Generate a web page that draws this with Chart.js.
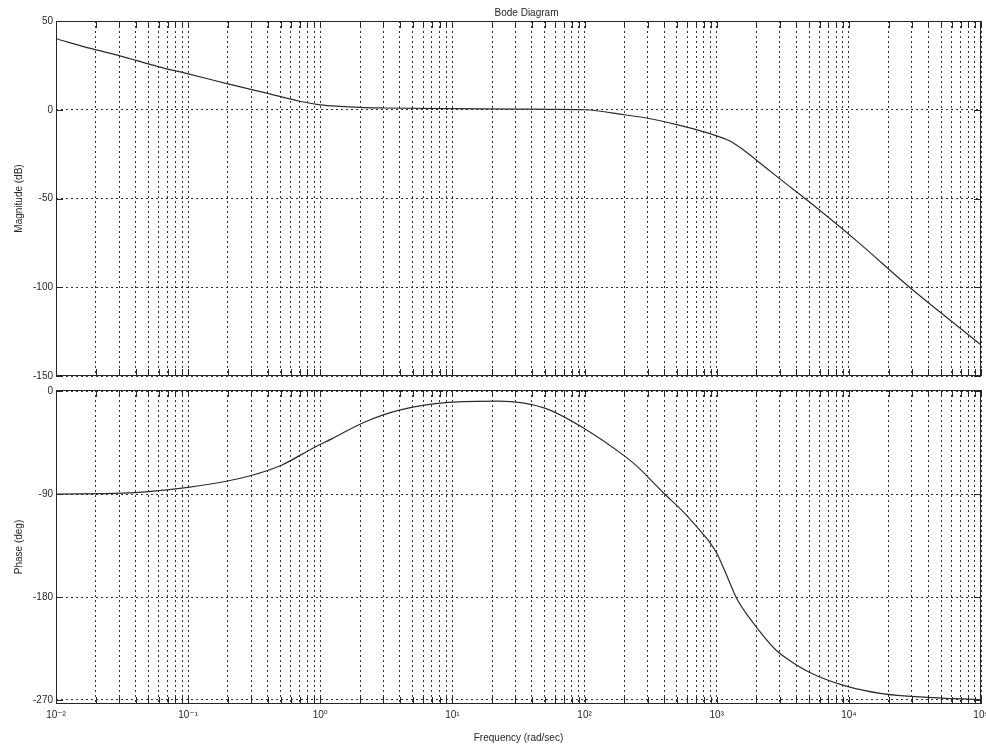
<!DOCTYPE html>
<html>
<head>
<meta charset="utf-8">
<script src="https://cdn.jsdelivr.net/npm/chart.js@4.4.1/dist/chart.umd.min.js"></script>
<style>
html,body{margin:0;padding:0;background:#fff;}
#wrap{position:relative;width:986px;height:749px;overflow:hidden;background:#fff;}
#c1{position:absolute;left:0;top:0;width:986px;height:383px;}
#c2{position:absolute;left:0;top:383px;width:986px;height:366px;}
</style>
</head>
<body>
<div id="wrap">
<canvas id="c1" width="986" height="383"></canvas>
<canvas id="c2" width="986" height="366"></canvas>
</div>
<script>
// ---------- data ----------
const titleText = 'Bode Diagram';
const xTitle = 'Frequency (rad/sec)';
const magTitle = 'Magnitude (dB)';
const phaseTitle = 'Phase (deg)';

const decades = [-2, -1, 0, 1, 2, 3, 4, 5];
const decadeLabels = ['10⁻²', '10⁻¹', '10⁰', '10¹', '10²', '10³', '10⁴', '10⁵'];
const minorSteps = [1, 2, 3, 4, 5, 6, 7, 8, 9];

const magTicks = [50, 0, -50, -100, -150];
const phaseTicks = [0, -90, -180, -270];

const magFreq = [0.01, 0.0186, 0.03, 0.06, 0.1, 0.2, 0.4, 0.7, 1, 1.4, 2, 3, 10, 30, 56, 100, 200, 300, 500, 840, 1000, 1259, 1585, 2000, 2990, 4900, 11500, 28800, 81000, 100000];
const magDb   = [40, 34.4, 30.5, 24.2, 20.2, 14.6, 9.2, 4.8, 2.8, 1.9, 1.3, 1.0, 0.6, 0.4, 0.2, 0, -2.8, -4.8, -8.4, -12.9, -14.7, -17.6, -22.5, -28.4, -38.8, -51.3, -74, -100, -127, -132.5];

const phaseFreq = [0.01, 0.0316, 0.05, 0.1, 0.195, 0.295, 0.513, 0.9, 1.23, 2.09, 3.89, 9.33, 22.4, 50, 100, 200, 251, 398, 575, 794, 891, 1000, 1096, 1189, 1413, 1888, 2754, 3388, 5012, 9550, 17780, 39800, 89100, 100000];
const phaseDeg  = [-90, -89.2, -87.8, -84.1, -78.8, -74, -64.5, -49.2, -41.5, -27.8, -16.8, -9.8, -8.7, -14.8, -32.8, -56.6, -66, -89.3, -107, -125.4, -132.6, -141.5, -151.5, -161, -181, -202.6, -225.4, -233.8, -245.7, -257.9, -264.4, -267.7, -269.5, -269.6];

// ---------- helpers ----------
const FONT = '"Liberation Sans", Arial, "DejaVu Sans", sans-serif';
const INK = '#262626';
const GRID = '#303030';

const xTickValues = [];
decades.forEach(d => {
  minorSteps.forEach(m => {
    const v = m * Math.pow(10, d);
    if (v <= 1e5 * 1.0000001) xTickValues.push(v);
  });
});

function decadeLabel(v) {
  const lg = Math.log10(v);
  const r = Math.round(lg);
  if (Math.abs(lg - r) < 1e-6) {
    const i = decades.indexOf(r);
    return i >= 0 ? decadeLabels[i] : '';
  }
  return '';
}

const framePlugin = {
  id: 'frame',
  afterDraw(chart) {
    const { ctx, chartArea: a, scales } = chart;
    const xs = scales.x, ys = scales.y;
    ctx.save();
    ctx.setLineDash([]);
    ctx.strokeStyle = INK;
    ctx.lineWidth = 1;
    ctx.strokeRect(Math.round(a.left) + 0.5, Math.round(a.top) + 0.5,
                   Math.round(a.right - a.left) - 1, Math.round(a.bottom - a.top) - 1);
    ctx.beginPath();
    xs.ticks.forEach(t => {
      const px = Math.round(xs.getPixelForValue(t.value)) + 0.5;
      ctx.moveTo(px, a.bottom); ctx.lineTo(px, a.bottom - 7);
      ctx.moveTo(px, a.top); ctx.lineTo(px, a.top + 7);
    });
    ys.ticks.forEach(t => {
      const py = Math.round(ys.getPixelForValue(t.value)) + 0.5;
      ctx.moveTo(a.left, py); ctx.lineTo(a.left + 7, py);
      ctx.moveTo(a.right, py); ctx.lineTo(a.right - 7, py);
    });
    ctx.stroke();
    if (chart.options.plugins.frame && chart.options.plugins.frame.title) {
      ctx.fillStyle = INK;
      ctx.font = '10px ' + FONT;
      ctx.textAlign = 'center';
      ctx.textBaseline = 'middle';
      ctx.fillText(chart.options.plugins.frame.title, (a.left + a.right) / 2 + 8, 13);
    }
    ctx.restore();
  }
};

function xScale(showLabels, height) {
  return {
    type: 'logarithmic',
    min: 0.01,
    max: 1e5,
    afterBuildTicks: s => { s.ticks = xTickValues.map(v => ({ value: v })); },
    afterFit: s => { s.height = height; s.paddingLeft = 0; s.paddingRight = 0; },
    ticks: {
      display: showLabels,
      autoSkip: false,
      maxRotation: 0,
      minRotation: 0,
      padding: 5,
      color: INK,
      font: { family: FONT, size: 10 },
      callback: v => decadeLabel(v)
    },
    grid: { color: GRID, lineWidth: 1, drawTicks: false },
    border: { display: false, dash: [2, 3] },
    title: showLabels ? {
      display: true, text: xTitle, color: INK,
      font: { family: FONT, size: 10 }, padding: { top: 0, bottom: 5 }
    } : { display: false }
  };
}

function yScale(min, max, tickVals, title) {
  return {
    type: 'linear',
    min: min,
    max: max,
    afterBuildTicks: s => { s.ticks = tickVals.map(v => ({ value: v })); },
    afterFit: s => { s.width = 56; s.paddingTop = 0; s.paddingBottom = 0; },
    ticks: {
      padding: 3,
      color: INK,
      font: { family: FONT, size: 10 },
      callback: v => String(v)
    },
    grid: { color: GRID, lineWidth: 1, drawTicks: false },
    border: { display: false, dash: [2, 3] },
    title: {
      display: true, text: title, color: INK,
      font: { family: FONT, size: 10 }, padding: { top: 13, bottom: 0 }
    }
  };
}

function lineDataset(freqs, vals) {
  return {
    data: freqs.map((f, i) => ({ x: f, y: vals[i] })),
    borderColor: '#2b2b2b',
    borderWidth: 1.2,
    pointRadius: 0,
    fill: false,
    cubicInterpolationMode: 'monotone'
  };
}

Chart.defaults.font.family = FONT;

new Chart(document.getElementById('c1'), {
  type: 'line',
  data: { datasets: [lineDataset(magFreq, magDb)] },
  options: {
    responsive: false,
    animation: false,
    layout: { padding: { left: 0, right: 5, top: 21, bottom: 0 } },
    plugins: { legend: { display: false }, tooltip: { enabled: false }, frame: { title: titleText } },
    scales: {
      x: xScale(false, 7),
      y: yScale(-150, 50, magTicks, magTitle)
    }
  },
  plugins: [framePlugin]
});

new Chart(document.getElementById('c2'), {
  type: 'line',
  data: { datasets: [lineDataset(phaseFreq, phaseDeg)] },
  options: {
    responsive: false,
    animation: false,
    layout: { padding: { left: 0, right: 5, top: 7, bottom: 0 } },
    plugins: { legend: { display: false }, tooltip: { enabled: false }, frame: {} },
    scales: {
      x: xScale(true, 45),
      y: yScale(-273.5, 1, phaseTicks, phaseTitle)
    }
  },
  plugins: [framePlugin]
});
</script>
</body>
</html>
